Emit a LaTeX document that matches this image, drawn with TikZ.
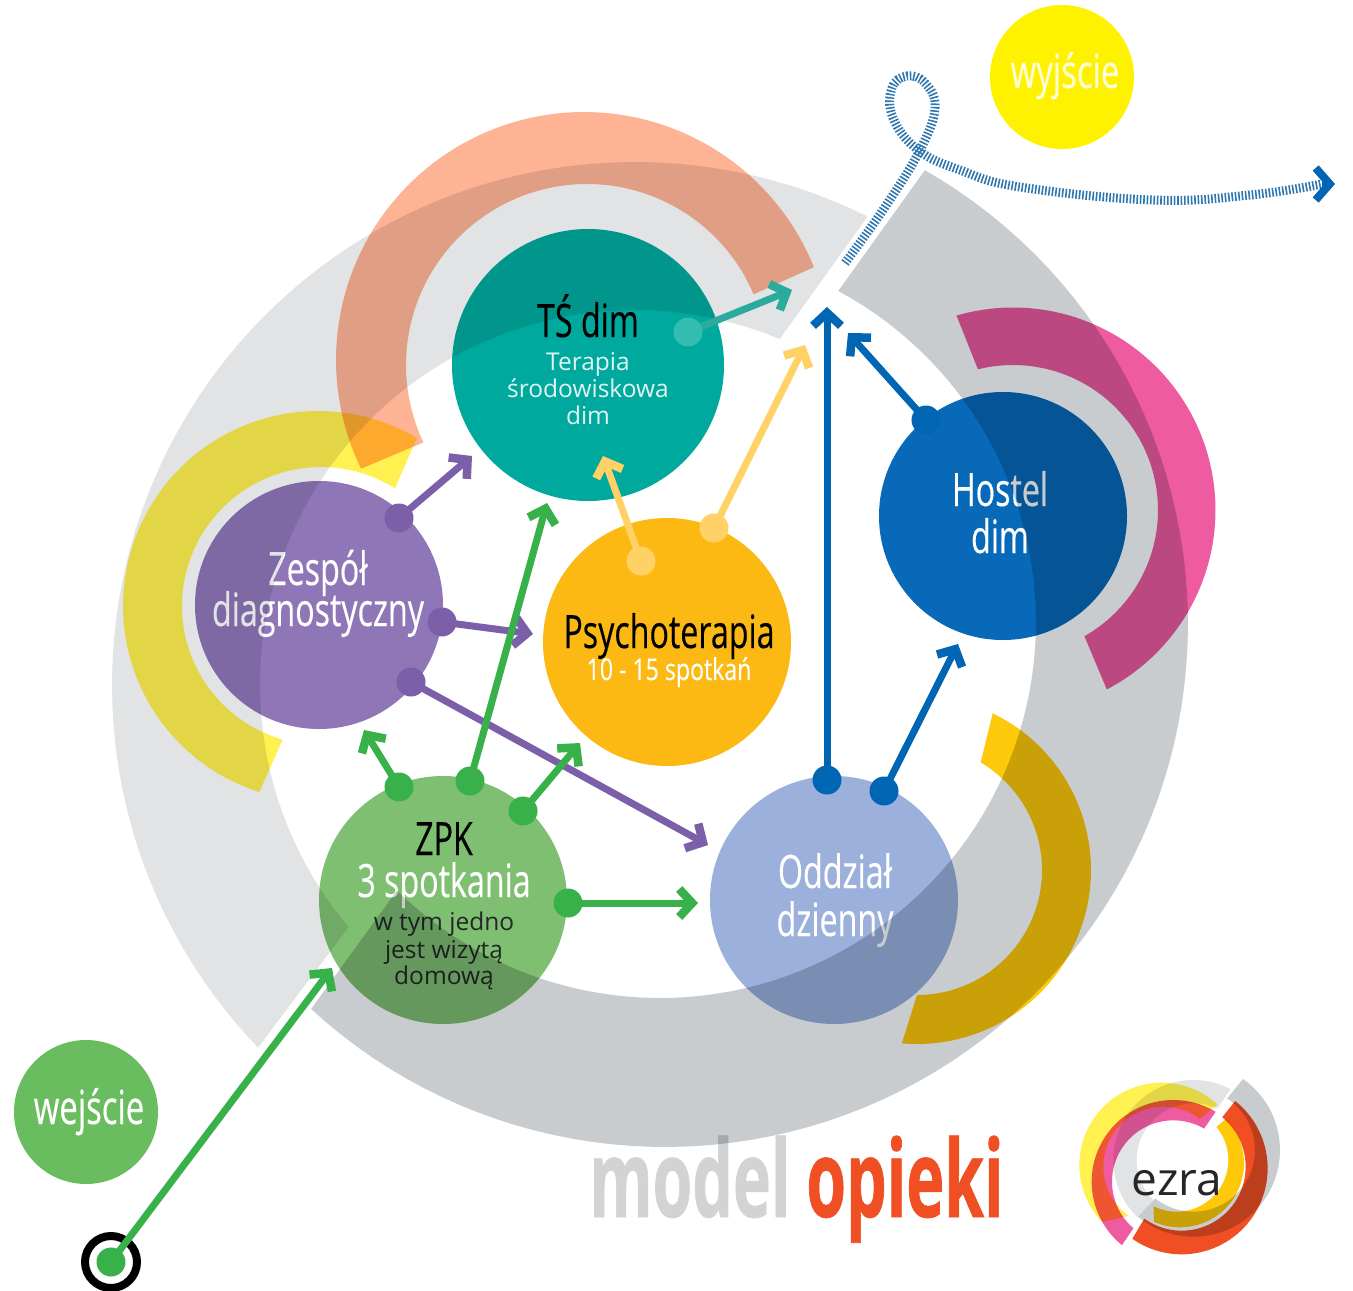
\documentclass[tikz,border=0pt]{standalone}
\usepackage{fontspec}
\usetikzlibrary{arrows.meta}
\setmainfont{Open Sans}
\newfontfamily\cond[FakeStretch=0.70,FakeBold=0.25]{Open Sans}
\newfontfamily\condw[FakeStretch=0.77,FakeBold=0.15]{Open Sans}
\newfontfamily\condb[FakeStretch=0.6,FakeBold=0.6]{Open Sans Bold}
\definecolor{ringL}{HTML}{E2E3E5}
\definecolor{ringD}{HTML}{C9CCCF}
\definecolor{cPeach}{HTML}{FDB394}
\definecolor{cYel}{HTML}{FFF14F}
\definecolor{cMag}{HTML}{EE5BA0}
\definecolor{cGold}{HTML}{FFC90B}
\definecolor{cTeal}{HTML}{00A99D}
\definecolor{cPur}{HTML}{8F77B7}
\definecolor{cOra}{HTML}{FDB913}
\definecolor{cBlu}{HTML}{0769B8}
\definecolor{cOdd}{HTML}{9BB1DC}
\definecolor{cZpk}{HTML}{7FBF72}
\definecolor{cWej}{HTML}{6ABD5E}
\definecolor{cWyj}{HTML}{FFF200}
\definecolor{aGre}{HTML}{39B14A}
\definecolor{aPur}{HTML}{7B5FA8}
\definecolor{aOra}{HTML}{FFD166}
\definecolor{aTeal}{HTML}{2BAB9E}
\definecolor{dTeal}{HTML}{33BDB0}
\definecolor{aBlu}{HTML}{0066B3}
\definecolor{cStitch}{HTML}{2F77B0}
\definecolor{cRed}{HTML}{F04E23}
\definecolor{cModel}{HTML}{D1D3D4}
\newcommand{\arcA}[5]{\def\Ax{#1}\def\Ay{#2}\def\Ar{#3}\def\Aa{#4}\def\Ab{#5}}
\newcommand{\bandfill}[6]{\fill[#1] plot[domain=\Aa:\Ab,samples=90] ({\Ax+\Ar*cos(\x)},{\Ay+\Ar*sin(\x)}) -- plot[domain=#5:#6,samples=90] ({#2+#4*cos(\x)},{#3+#4*sin(\x)}) -- cycle;}
\tikzset{
  big/.style={circle,minimum size=248pt,inner sep=0pt,outer sep=0pt},
  lab/.style={circle,minimum size=144pt,inner sep=0pt,outer sep=0pt},
  dotn/.style={circle,minimum size=29pt,inner sep=0pt,outer sep=0pt},
  txt/.style={anchor=base,inner sep=0pt,outer sep=0pt},
  ttl/.style={txt,font=\cond\fontsize{46}{46}\selectfont},
  sub/.style={txt,font=\fontsize{24.5}{25}\selectfont},
  conn/.style={line width=7pt,-{Straight Barb[length=13pt,width=28pt,line width=8.5pt]}},
}
\begin{document}
\begin{tikzpicture}[x=1pt,y=-1pt]
\useasboundingbox (0,0) rectangle (1353,1291);
\fill[white] (0,0) rectangle (1353,1291);
% circles
\node[big,fill=cTeal,minimum size=272pt] (ts) at (588,365) {};
\node[big,fill=cPur] (zd) at (319,605) {};
\node[big,fill=cOra] (ps) at (667,642) {};
\node[big,fill=cBlu] (ho) at (1003,516) {};
\node[big,fill=cZpk] (zp) at (443,900) {};
\node[big,fill=cOdd] (od) at (834,900) {};
\node[lab,fill=cWej] (wej) at (86,1112) {};
\node[lab,fill=cWyj] (wyj) at (1062,77) {};
% texts
\node[ttl,text=black] (t1) at (588,337) {TŚ dim};
\node[sub,text=white!88!cTeal] (t2) at (588,370) {Terapia};
\node[sub,text=white!88!cTeal] (t3) at (588,397) {środowiskowa};
\node[sub,text=white!88!cTeal] (t4) at (588,424) {dim};
\node[ttl,text=white] (t5) at (318,585) {Zespół};
\node[ttl,text=white] (t6) at (318,626) {diagnostyczny};
\node[ttl,text=black] (t7) at (669,648) {Psychoterapia};
\node[txt,text=white,font=\condw\fontsize{30}{30}\selectfont] (t8) at (669,680) {10 - 15 spotkań};
\node[ttl,text=white] (t9) at (1000,506) {Hostel};
\node[ttl,text=white] (t10) at (1000,553) {dim};
\node[ttl,text=black] (t11) at (444,855) {ZPK};
\node[ttl,text=white] (t12) at (444,897) {3 spotkania};
\node[sub,text=black!85] (t13) at (444,930) {w tym jedno};
\node[sub,text=black!85] (t14) at (444,958) {jest wizytą};
\node[sub,text=black!85] (t15) at (444,984) {domową};
\node[ttl,text=white] (t16) at (835,888) {Oddział};
\node[ttl,text=white] (t17) at (835,936) {dzienny};
\node[txt,text=white,font=\cond\fontsize{47}{47}\selectfont] (t18) at (89,1124) {wejście};
\node[txt,text=white!85!cWyj,font=\cond\fontsize{47}{47}\selectfont] (t19) at (1065,88) {wyjście};
\node[txt,text=cModel,font=\condb\fontsize{107}{107}\selectfont] (t20) at (690,1217) {model};
\node[txt,text=cRed,font=\condb\fontsize{107}{107}\selectfont] (t21) at (905,1217) {opieki};
% rings and bands (multiply)
\begin{scope}[blend mode=multiply]
\arcA{635}{685}{523}{-63.6}{-223.9}\bandfill{ringL}{635}{685}{375}{-220.2}{-67.3}
\arcA{665}{624}{523}{-60.2}{132.6}\bandfill{ringD}{660}{622}{376}{134.4}{-61.7}
\arcA{584}{360}{248}{-22}{-206}\bandfill{cPeach}{587}{365}{181}{-205.3}{-23}
\arcA{318}{606}{195}{-59.5}{-252.5}\bandfill{cYel}{321}{606}{139}{-254}{-57.9}
\arcA{1013}{510}{202.5}{-106.2}{62.4}\bandfill{cMag}{1013}{510}{145}{60.5}{-104}
\arcA{917}{870}{174}{-64.2}{95}\bandfill{cGold}{917}{870}{125}{90}{-59.4}
\end{scope}
% logo
\begin{scope}[shift={(1060,1060)},scale=0.3333]
\begin{scope}[blend mode=multiply]
\arcA{400}{300}{240}{-62.3}{-225}\bandfill{ringL}{400}{300}{170}{-225}{-65}
\arcA{400}{270}{260}{-55}{130}\bandfill{ringD}{400}{270}{185}{128}{-56.8}
\arcA{305}{315}{247}{-47.4}{-224}\bandfill{cYel}{310}{320}{180}{-235}{-52.6}
\arcA{340}{365}{245}{-58.8}{-231}\bandfill{cMag}{340}{365}{184}{-229.4}{-59.9}
\arcA{360}{310}{192}{-44}{114}\bandfill{cGold}{350}{300}{155}{116.6}{-39.8}
\arcA{365}{325}{258}{-51.5}{125}\bandfill{cRed}{365}{320}{192}{125.7}{-50.6}
\end{scope}
\end{scope}
\node[txt,text=black!85,font=\fontsize{46}{46}\selectfont] (ez) at (1177,1195) {ezra};
% stitched exit path
\coordinate (s0) at (845,263);
\coordinate (s1) at (1322,184);
\coordinate (s2) at (1335,184);
\draw[cStitch,line width=9pt,dash pattern=on 1.6pt off 1.8pt] plot[smooth,tension=0.7] coordinates {(s0)(885,207)(920,150)(935,108)(925,83)(907,76)(892,88)(893,118)(918,150)(960,170)(1020,187)(1153,200)(1250,195)(s1)};
\draw[aBlu,line width=8pt,-{Straight Barb[length=14pt,width=32pt]}] (s1) -- (s2);
% dots and tips
\node[dotn,fill=aPur] (p1) at (399,518) {};
\node[dotn,fill=aPur] (p2) at (442,622) {};
\node[dotn,fill=aPur] (p3) at (411,682) {};
\coordinate (pt1) at (472,456);
\coordinate (pt2) at (533,634);
\coordinate (pt3) at (708,845);
\draw[conn,aPur] (p1.center) -- (pt1);
\draw[conn,aPur] (p2.center) -- (pt2);
\draw[conn,aPur] (p3.center) -- (pt3);
\coordinate (ot1) at (603,456);
\coordinate (ot2) at (805,345);
\node[dotn,fill=aOra] (o1) at (641,561) {};
\node[dotn,fill=aOra] (o2) at (714,528) {};
\draw[conn,aOra] (o1.center) -- (ot1);
\draw[conn,aOra] (o2.center) -- (ot2);
\coordinate (tt1) at (792,290);
\coordinate (tc) at (688,332);
\draw[conn,aTeal] (tc) -- (tt1);
\node[dotn,fill=dTeal] (te1) at (tc) {};
\coordinate (bt1) at (827,307);
\coordinate (bt2) at (958,644);
\coordinate (bt3) at (848,333);
\node[dotn,fill=aBlu] (b1) at (827,780) {};
\node[dotn,fill=aBlu] (b2) at (884,791) {};
\node[dotn,fill=aBlu] (b3) at (926,420) {};
\draw[conn,aBlu] (b1.center) -- (bt1);
\draw[conn,aBlu] (b2.center) -- (bt2);
\draw[conn,aBlu] (b3.center) -- (bt3);
\coordinate (gt1) at (364,730);
\coordinate (gt2) at (547,503);
\coordinate (gt3) at (580,743);
\coordinate (gt4) at (698,903);
\coordinate (gt5) at (332,968);
\node[dotn,fill=aGre] (g1) at (399,787) {};
\node[dotn,fill=aGre] (g2) at (470,781) {};
\node[dotn,fill=aGre] (g3) at (523,811) {};
\node[dotn,fill=aGre] (g4) at (568,903) {};
\draw[conn,aGre] (g1.center) -- (gt1);
\draw[conn,aGre] (g2.center) -- (gt2);
\draw[conn,aGre] (g3.center) -- (gt3);
\draw[conn,aGre] (g4.center) -- (gt4);
% entry target
\node[circle,draw=black,line width=8pt,fill=white,minimum size=52pt,inner sep=0pt] (tg) at (111,1262) {};
\node[dotn,fill=aGre] (g0) at (111,1262) {};
\draw[conn,aGre] (g0.center) -- (gt5);
\end{tikzpicture}
\end{document}
